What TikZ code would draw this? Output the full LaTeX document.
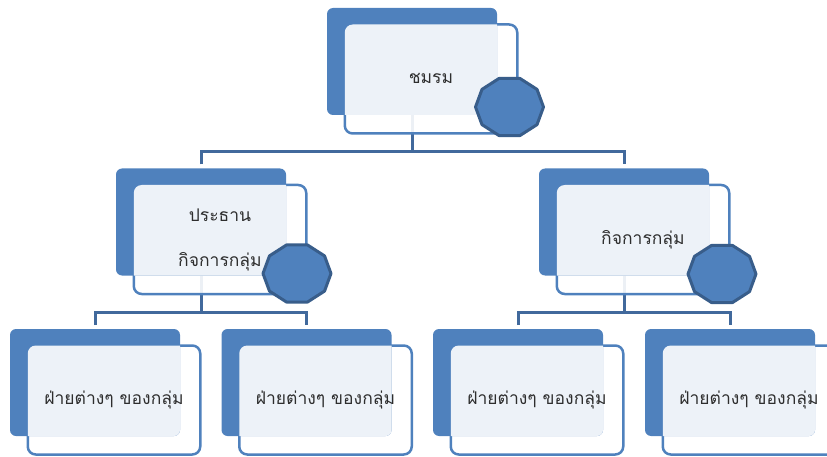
\documentclass[tikz,border=0pt]{standalone}
\usepackage{fontspec}
\newfontfamily\thaifont[Script=Thai]{Loma}
\definecolor{acc}{HTML}{4F81BD}
\definecolor{accd}{HTML}{385D8A}
\definecolor{conn}{HTML}{41699C}
\definecolor{txt}{HTML}{2E2E2E}
\tikzset{
  backbox/.style={fill=acc, rounded corners=6pt, minimum width=170pt, minimum height=107pt, inner sep=0pt, outer sep=0pt},
  frontbox/.style={draw=acc, line width=2.5pt, fill=white, fill opacity=0.9, rounded corners=8pt, minimum width=172.5pt, minimum height=109pt, inner sep=0pt, outer sep=0pt},
  conn/.style={draw=conn, line width=3pt},
  deca/.style={draw=accd, fill=acc, line width=3pt, line join=round},
  lbl/.style={font=\thaifont\fontsize{17.5pt}{21pt}\selectfont, text=txt, inner sep=0pt, align=center},
}
\newcommand{\overlaybox}[2]{%
  \begin{scope}
    \clip[rounded corners=6pt] (#1.south west) rectangle (#1.north east);
    \fill[white, opacity=0.9, rounded corners=8pt] (#2.south west) rectangle (#2.north east);
  \end{scope}}
\newcommand{\decagon}[1]{%
  \draw[deca] ($(#1)+(0:34pt and 30pt)$)
    \foreach \k in {1,...,9} { -- ($(#1)+(36*\k:34pt and 30pt)$) } -- cycle;}
\usetikzlibrary{calc}
\begin{document}
\begin{tikzpicture}[x=1pt, y=-1pt]
\useasboundingbox (0,0) rectangle (827,457);
% connector junctions
\coordinate (j0) at (412,152);
\coordinate (j1) at (201,312);
\coordinate (j2) at (624,312);
% positions of back boxes
\coordinate (pb0) at (412,61.5);
\coordinate (pb1) at (201,222);
\coordinate (pb2) at (624,222);
\coordinate (pb3) at (95,382.5);
\coordinate (pb4) at (306.5,382.5);
\coordinate (pb5) at (518,382.5);
\coordinate (pb6) at (730,382.5);
% invisible anchors of back boxes for connectors
\foreach \i in {0,...,6} { \node[backbox, fill=none] (a\i) at (pb\i) {}; }
% connectors
\draw[conn] (a0.south) -- (j0);
\draw[conn] ([yshift=4pt]a1.north) |- (j0) -| ([yshift=4pt]a2.north);
\draw[conn] (a1.south) -- (j1);
\draw[conn] ([yshift=4pt]a3.north) |- (j1) -| ([yshift=4pt]a4.north);
\draw[conn] (a2.south) -- (j2);
\draw[conn] ([yshift=4pt]a5.north) |- (j2) -| ([yshift=4pt]a6.north);
% units
\foreach \i in {0,...,6} {
  \node[frontbox] (f\i) at ($(pb\i)+(19,17.5)$) {};
  \node[backbox] (b\i) at (pb\i) {};
  \overlaybox{b\i}{f\i}
}
% decagons
\coordinate (d0) at (509.5,107);
\coordinate (d1) at (297,273.5);
\coordinate (d2) at (722,274);
\decagon{d0}
\decagon{d1}
\decagon{d2}
% labels
\node[lbl] (t0) at ($(f0.center)+(0,-1)$) {ชมรม};
\node[lbl] (t1a) at (220,215) {ประธาน};
\node[lbl] (t1b) at (220,262) {กิจการกลุ่ม};
\node[lbl] (t2) at ($(f2.center)+(0,0)$) {กิจการกลุ่ม};
\node[lbl] (t3) at (f3.center) {ฝ่ายต่างๆ ของกลุ่ม};
\node[lbl] (t4) at (f4.center) {ฝ่ายต่างๆ ของกลุ่ม};
\node[lbl] (t5) at (f5.center) {ฝ่ายต่างๆ ของกลุ่ม};
\node[lbl] (t6) at (f6.center) {ฝ่ายต่างๆ ของกลุ่ม};
\end{tikzpicture}
\end{document}
